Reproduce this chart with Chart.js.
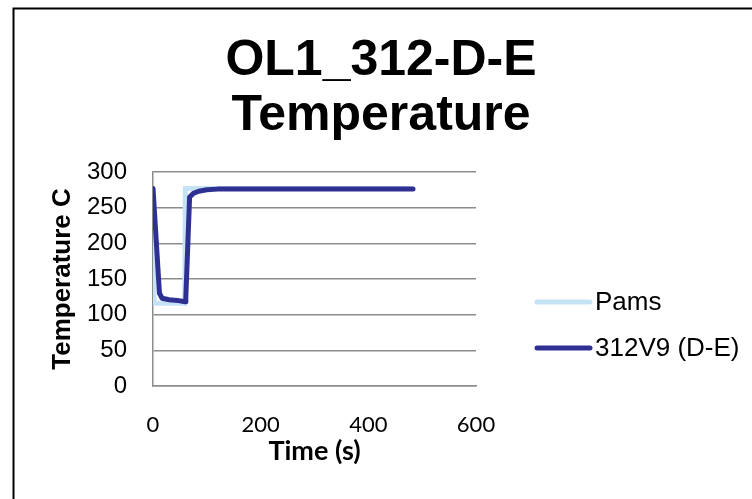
<!DOCTYPE html>
<html>
<head>
<meta charset="utf-8">
<title>OL1_312-D-E Temperature</title>
<script src="https://cdn.jsdelivr.net/npm/chart.js@4.4.1/dist/chart.umd.min.js"></script>
<style>
  html, body { margin: 0; padding: 0; background: #fff; overflow: hidden; }
  #wrap { position: relative; width: 752px; height: 499px; }
</style>
</head>
<body>
<div id="wrap"><canvas id="tempChart"></canvas></div>
<script>
// ---- values ----
const titleLines = ['OL1_312-D-E', 'Temperature'];
const seriesNames = ['Pams', '312V9 (D-E)'];

// Pams set-point profile (time s, temp C)
const pamsTime = [0, 2, 59, 60, 483];
const pamsTemp = [277, 116, 116, 277, 277];

// 312V9 (D-E) measured profile (time s, temp C)
const simTime = [0, 12, 17, 30, 45, 60, 61, 68, 75, 85, 100, 120, 483];
const simTemp = [277, 130, 123, 121, 120, 118, 125, 265, 270, 273, 275, 276, 276];

const xTicks = [0, 200, 400, 600];
const yTicks = [0, 50, 100, 150, 200, 250, 300];

const GRID = '#8c8c8c';
const ARIAL = '"Liberation Sans", Arial, sans-serif';

const toPoints = (xs, ys) => xs.map((x, i) => ({ x, y: ys[i] }));

// frame, two-line title and the line legend on the right (Excel style)
const decor = {
  id: 'decor',
  beforeDraw(chart) {
    const { ctx } = chart;
    ctx.save();
    ctx.strokeStyle = '#000';
    ctx.lineWidth = 2;
    ctx.strokeRect(13.5, 8.5, 800, 600);
    ctx.restore();
  },
  afterDraw(chart) {
    const { ctx } = chart;
    ctx.save();
    ctx.fillStyle = '#000';
    ctx.font = 'bold 50px ' + ARIAL;
    ctx.textAlign = 'center';
    ctx.textBaseline = 'alphabetic';
    titleLines.forEach((t, i) => ctx.fillText(t, 381, 75 + i * 55));

    ctx.font = '26px ' + ARIAL;
    ctx.textAlign = 'left';
    ctx.textBaseline = 'middle';
    chart.data.datasets.forEach((ds, i) => {
      const y = 302 + i * 46;
      ctx.strokeStyle = ds.borderColor;
      ctx.lineWidth = 5;
      ctx.lineCap = 'round';
      ctx.beginPath();
      ctx.moveTo(537, y);
      ctx.lineTo(590, y);
      ctx.stroke();
      ctx.fillText(ds.label, 595, y + 1);
    });
    ctx.restore();
  }
};

new Chart(document.getElementById('tempChart'), {
  type: 'line',
  data: {
    datasets: [
      { label: seriesNames[0], data: toPoints(pamsTime, pamsTemp), borderColor: '#c6e3f6', borderWidth: 5, pointRadius: 0, order: 2 },
      { label: seriesNames[1], data: toPoints(simTime, simTemp), borderColor: '#2e3192', borderWidth: 5, pointRadius: 0, order: 1, borderJoinStyle: 'round', borderCapStyle: 'round' }
    ]
  },
  options: {
    responsive: true,
    maintainAspectRatio: false,
    animation: false,
    layout: { padding: { left: 43, top: 172, right: 276, bottom: 0 } },
    plugins: { legend: { display: false }, title: { display: false }, tooltip: { enabled: false } },
    scales: {
      x: {
        type: 'linear', min: 0, max: 600,
        afterBuildTicks: s => { s.ticks = xTicks.map(v => ({ value: v })); },
        afterFit: s => { s.height = 113; },
        grid: { display: false, drawTicks: false },
        border: { display: true, color: GRID, width: 1.5 },
        ticks: { padding: 26, color: '#000', maxRotation: 0, font: { family: 'Lato', size: 22 } },
        title: { display: true, text: 'Time (s)', color: '#000', font: { family: 'Lato', size: 27, weight: 'bold' }, padding: { top: 0, bottom: 32 } }
      },
      y: {
        min: 0, max: 300,
        afterBuildTicks: s => { s.ticks = yTicks.map(v => ({ value: v })); },
        afterFit: s => { s.width = 110; },
        grid: { color: GRID, lineWidth: 1.5, drawTicks: false },
        border: { display: true, color: GRID, width: 1.5 },
        ticks: { padding: 26, color: '#000', font: { family: 'Liberation Sans', size: 24 } },
        title: { display: true, text: 'Temperature C', color: '#000', font: { family: 'Liberation Sans', size: 26, weight: 'bold' }, padding: { top: 4, bottom: 4 } }
      }
    }
  },
  plugins: [decor]
});
</script>
</body>
</html>
